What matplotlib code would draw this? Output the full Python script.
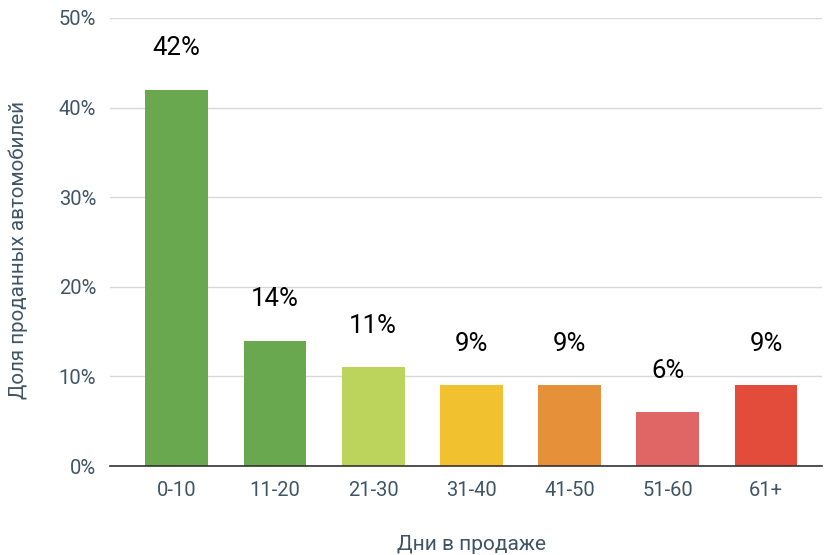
import matplotlib.pyplot as plt
from matplotlib.ticker import FuncFormatter

plt.rcParams['font.family'] = ['Roboto', 'DejaVu Sans']

# Доля проданных автомобилей по числу дней в продаже
categories = ['0-10', '11-20', '21-30', '31-40', '41-50', '51-60', '61+']
shares = [42, 14, 11, 9, 9, 6, 9]
bar_colors = ['#6aa84f', '#6aa84f', '#bdd45c', '#f2c12f', '#e6913a', '#e06666', '#e34b3a']
y_ticks = [0, 10, 20, 30, 40, 50]

text_color = '#3f5566'

fig = plt.figure(figsize=(8.28, 5.55), dpi=100)
ax = fig.add_axes([110 / 828, 1 - 466 / 555, 712 / 828, 448 / 555])

x = range(len(categories))
ax.bar(x, shares, width=0.64, color=bar_colors, zorder=3)

for xi, v in zip(x, shares):
    ax.text(xi, v + 4.6, f'{v}%', ha='center', va='center',
            fontsize=18.5, color='black', zorder=4)

ax.set_ylim(0, 50)
ax.set_xlim(-0.68, 6.57)
ax.set_yticks(y_ticks)
ax.yaxis.set_major_formatter(FuncFormatter(lambda v, _: f'{v:.0f}%'))
ax.set_xticks(list(x))
ax.set_xticklabels(categories)

ax.grid(axis='y', color='#d9d9d9', linewidth=1, zorder=0)
for side in ['top', 'right', 'left']:
    ax.spines[side].set_visible(False)
ax.spines['bottom'].set_color('#333333')
ax.spines['bottom'].set_linewidth(1.2)
ax.spines['bottom'].set_zorder(5)

ax.tick_params(axis='both', length=0, labelsize=14.5, colors=text_color)
ax.tick_params(axis='x', pad=11)
ax.tick_params(axis='y', pad=10)

fig.text(472 / 828, 1 - 545 / 555, 'Дни в продаже', ha='center', va='center',
         fontsize=15, color=text_color)
fig.text(18 / 828, 1 - 250 / 555, 'Доля проданных автомобилей', ha='center',
         va='center', rotation=90, fontsize=14.8, color=text_color)

fig.savefig('out.png', dpi=100)
